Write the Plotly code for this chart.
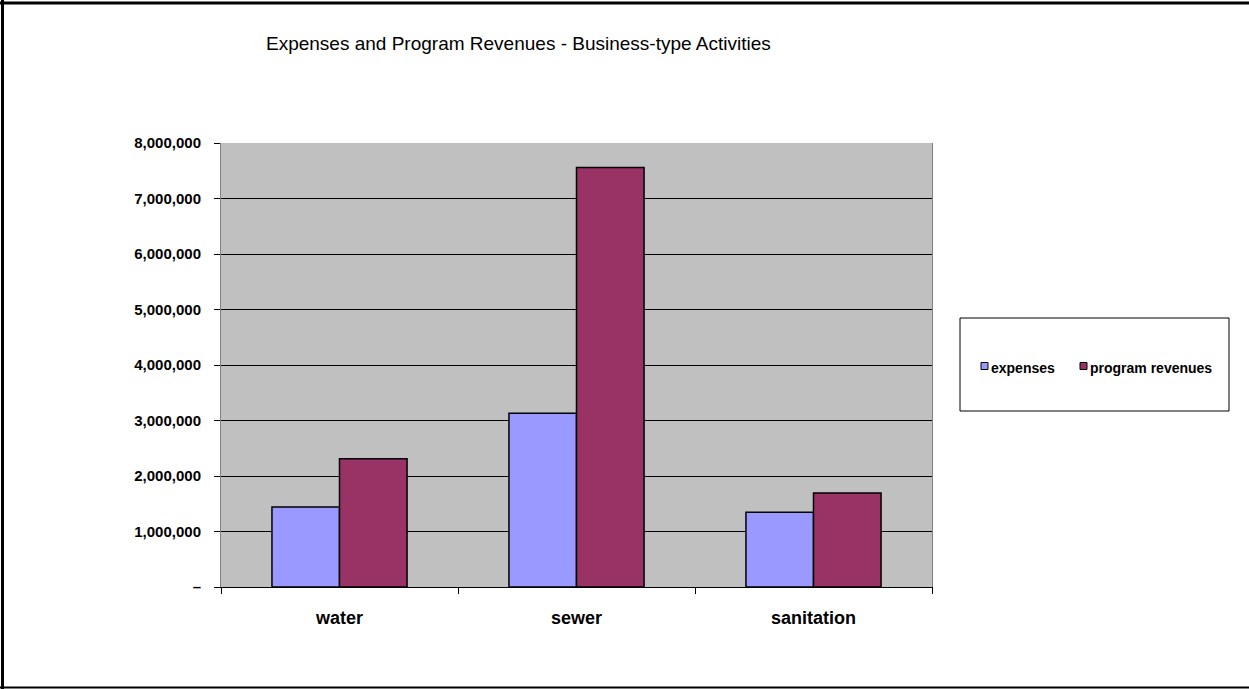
import plotly.graph_objects as go

# Business-type activities: expenses vs. program revenues
categories = ["water", "sewer", "sanitation"]
expenses = [1440000, 3130000, 1345000]
program_revenues = [2310000, 7560000, 1695000]

series_names = ["expenses", "program revenues"]
series_colors = ["#9999FF", "#993366"]

y_tick_values = [0, 1000000, 2000000, 3000000, 4000000, 5000000, 6000000, 7000000, 8000000]
y_tick_labels = ["–", "1,000,000", "2,000,000", "3,000,000", "4,000,000",
                 "5,000,000", "6,000,000", "7,000,000", "8,000,000"]

W, H = 1249, 689
L, R, T, B = 221, 932, 143, 587   # plot-area edges in pixels


def px_x(x):
    return (x - L) / (R - L)


def px_y(y):
    return (B - y) / (B - T)


FONT = "Liberation Sans, Arial, sans-serif"

fig = go.Figure()
for name, color, values in zip(series_names, series_colors, [expenses, program_revenues]):
    fig.add_trace(go.Bar(
        x=categories, y=values, name=name,
        marker=dict(color=color, line=dict(color="#000000", width=1.5)),
    ))

shapes = [
    # legend frame
    dict(type="rect", xref="paper", yref="paper",
         x0=px_x(960), x1=px_x(1229), y0=px_y(411), y1=px_y(318),
         line=dict(color="#000000", width=1), fillcolor="rgba(0,0,0,0)"),
    # outer chart frame
    dict(type="line", xref="paper", yref="paper",
         x0=px_x(0), x1=px_x(W), y0=px_y(3), y1=px_y(3),
         line=dict(color="#000000", width=3)),
    dict(type="line", xref="paper", yref="paper",
         x0=px_x(2.5), x1=px_x(2.5), y0=px_y(0), y1=px_y(H),
         line=dict(color="#000000", width=3)),
    dict(type="line", xref="paper", yref="paper",
         x0=px_x(0), x1=px_x(W), y0=px_y(687.5), y1=px_y(687.5),
         line=dict(color="#000000", width=2)),
]

annotations = [dict(
    text="Expenses and Program Revenues - Business-type Activities",
    xref="paper", yref="paper",
    x=px_x(518.5), y=px_y(44),
    xanchor="center", yanchor="middle",
    showarrow=False,
    font=dict(family=FONT, size=19, color="#000000"),
)]

# legend entries: small swatch + label, laid out in one row inside the frame
legend_item_x = [981, 1080]
for name, color, sx in zip(series_names, series_colors, legend_item_x):
    shapes.append(dict(
        type="rect", xref="paper", yref="paper",
        x0=px_x(sx), x1=px_x(sx + 7), y0=px_y(369.5), y1=px_y(362.5),
        line=dict(color="#000000", width=1), fillcolor=color,
    ))
    annotations.append(dict(
        text=name, xref="paper", yref="paper",
        x=px_x(sx + 8), y=px_y(368),
        xanchor="left", yanchor="middle", showarrow=False,
        font=dict(family=FONT, size=14, color="#000000", weight="bold"),
    ))

fig.update_layout(
    width=W, height=H,
    autosize=False,
    margin=dict(l=L, r=W - R, t=T, b=H - B, pad=0),
    paper_bgcolor="#FFFFFF",
    plot_bgcolor="#C0C0C0",
    barmode="group",
    bargap=0.43,
    bargroupgap=0,
    font=dict(family=FONT, color="#000000"),
    showlegend=False,
    shapes=shapes,
    annotations=annotations,
)

fig.update_xaxes(
    type="category",
    tickson="boundaries",
    ticks="outside", ticklen=6, tickcolor="#000000", tickwidth=1,
    showline=True, linecolor="#000000", linewidth=1,
    showgrid=False,
    tickfont=dict(family=FONT, size=18, color="#000000", weight="bold"),
    ticklabelstandoff=14,
)
fig.update_yaxes(
    range=[0, 8000000],
    tickvals=y_tick_values, ticktext=y_tick_labels,
    ticks="outside", ticklen=6, tickcolor="#000000", tickwidth=1,
    showline=True, linecolor="#808080", linewidth=1, mirror=True,
    showgrid=True, gridcolor="#000000", gridwidth=1,
    zeroline=False,
    tickfont=dict(family=FONT, size=15, color="#000000", weight="bold"),
    ticklabelstandoff=10,
)

page_style = (
    "document.documentElement.style.margin='0';"
    "document.documentElement.style.overflow='hidden';"
    "document.body.style.margin='0';"
    "document.body.style.overflow='hidden';"
)

fig.write_html("out.html", config={"responsive": False}, post_script=page_style)
